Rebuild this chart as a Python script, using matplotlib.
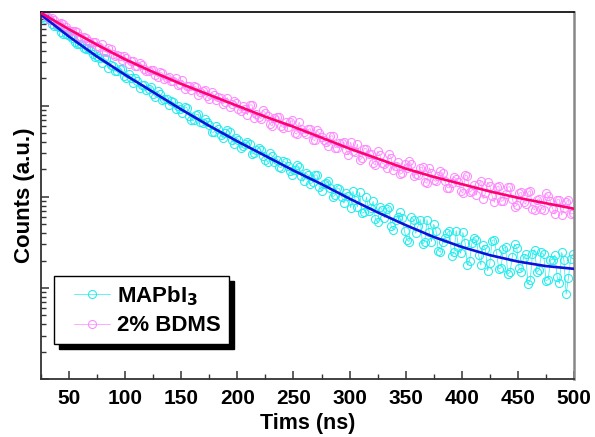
import matplotlib
matplotlib.use("Agg")
import matplotlib.pyplot as plt
import numpy as np
from matplotlib.patches import Rectangle
from matplotlib.legend_handler import HandlerLine2D
from matplotlib.ticker import MultipleLocator, LogLocator, NullFormatter

plt.rcParams["font.family"] = ["Liberation Sans", "DejaVu Sans"]
plt.rcParams["font.weight"] = "bold"

# time channels of the decay traces (ns)
time_ns = np.arange(25, 500, 2)

# log10(counts)
mapbi3_log10 = [
    4.01, 3.97, 3.95, 3.96, 3.94, 3.90, 3.88, 3.88, 3.86, 3.81,
    3.79, 3.79, 3.78, 3.77, 3.74, 3.70, 3.68, 3.68, 3.68, 3.63,
    3.62, 3.63, 3.61, 3.57, 3.54, 3.55, 3.53, 3.47, 3.52, 3.51,
    3.42, 3.45, 3.44, 3.38, 3.38, 3.40, 3.40, 3.33, 3.31, 3.35,
    3.30, 3.25, 3.30, 3.27, 3.20, 3.23, 3.23, 3.17, 3.19, 3.21,
    3.13, 3.10, 3.16, 3.13, 3.06, 3.07, 3.07, 3.01, 3.05, 3.04,
    2.96, 3.00, 2.97, 2.92, 2.99, 2.98, 2.89, 2.84, 2.84, 2.90,
    2.91, 2.82, 2.81, 2.86, 2.82, 2.79, 2.71, 2.71, 2.78, 2.75,
    2.68, 2.65, 2.70, 2.73, 2.71, 2.62, 2.58, 2.65, 2.63, 2.54,
    2.56, 2.58, 2.60, 2.58, 2.47, 2.48, 2.51, 2.54, 2.51, 2.45,
    2.41, 2.38, 2.48, 2.45, 2.38, 2.40, 2.33, 2.32, 2.39, 2.38,
    2.34, 2.28, 2.24, 2.29, 2.35, 2.33, 2.23, 2.17, 2.26, 2.24,
    2.14, 2.16, 2.24, 2.24, 2.11, 2.07, 2.14, 2.15, 2.17, 2.10,
    2.00, 2.02, 2.10, 2.09, 2.00, 1.93, 2.04, 2.01, 1.88, 2.06,
    1.97, 1.89, 2.05, 1.82, 1.83, 2.00, 1.85, 1.88, 1.95, 1.76,
    1.72, 1.89, 1.86, 1.77, 1.87, 1.89, 1.68, 1.64, 1.75, 1.78,
    1.83, 1.77, 1.62, 1.53, 1.51, 1.78, 1.75, 1.60, 1.68, 1.75,
    1.48, 1.51, 1.75, 1.61, 1.51, 1.70, 1.63, 1.41, 1.39, 1.51,
    1.55, 1.60, 1.63, 1.35, 1.39, 1.63, 1.45, 1.38, 1.61, 1.49,
    1.25, 1.30, 1.49, 1.55, 1.53, 1.36, 1.25, 1.47, 1.43, 1.19,
    1.27, 1.52, 1.53, 1.38, 1.21, 1.22, 1.43, 1.45, 1.15, 1.17,
    1.34, 1.48, 1.44, 1.22, 1.18, 1.33, 1.37, 1.04, 1.09, 1.37,
    1.42, 1.17, 1.20, 1.39, 1.37, 1.08, 1.09, 1.31, 1.31, 1.36,
    1.12, 1.05, 1.39, 1.31, 0.93, 1.11, 1.32, 1.37,
]
bdms_log10 = [
    4.01, 4.02, 4.00, 3.97, 3.94, 3.96, 3.94, 3.90, 3.90, 3.91,
    3.90, 3.87, 3.83, 3.82, 3.82, 3.82, 3.81, 3.77, 3.75, 3.76,
    3.75, 3.71, 3.69, 3.70, 3.70, 3.66, 3.65, 3.68, 3.60, 3.59,
    3.64, 3.62, 3.57, 3.55, 3.56, 3.55, 3.50, 3.55, 3.52, 3.46,
    3.49, 3.49, 3.44, 3.44, 3.47, 3.45, 3.40, 3.38, 3.38, 3.39,
    3.39, 3.34, 3.32, 3.37, 3.36, 3.29, 3.30, 3.32, 3.27, 3.27,
    3.30, 3.23, 3.24, 3.28, 3.19, 3.22, 3.22, 3.17, 3.22, 3.21,
    3.12, 3.15, 3.16, 3.17, 3.11, 3.07, 3.15, 3.12, 3.06, 3.10,
    3.09, 3.02, 3.04, 3.09, 2.99, 3.02, 3.05, 3.03, 2.96, 2.94,
    3.00, 2.97, 2.90, 3.01, 3.01, 2.87, 2.91, 2.88, 2.86, 2.95,
    2.92, 2.89, 2.80, 2.78, 2.87, 2.88, 2.88, 2.78, 2.76, 2.82,
    2.77, 2.82, 2.84, 2.70, 2.69, 2.82, 2.75, 2.71, 2.69, 2.74,
    2.75, 2.63, 2.62, 2.73, 2.70, 2.66, 2.63, 2.60, 2.56, 2.67,
    2.67, 2.54, 2.54, 2.59, 2.59, 2.60, 2.51, 2.46, 2.60, 2.50,
    2.49, 2.58, 2.40, 2.43, 2.53, 2.53, 2.47, 2.47, 2.37, 2.35,
    2.50, 2.46, 2.37, 2.36, 2.32, 2.47, 2.43, 2.29, 2.34, 2.38,
    2.25, 2.26, 2.36, 2.32, 2.39, 2.36, 2.23, 2.25, 2.24, 2.32,
    2.33, 2.16, 2.15, 2.32, 2.26, 2.18, 2.17, 2.23, 2.28, 2.26,
    2.17, 2.10, 2.10, 2.15, 2.22, 2.20, 2.16, 2.07, 2.04, 2.24,
    2.23, 2.05, 2.07, 2.13, 2.02, 2.14, 2.17, 1.98, 2.04, 2.16,
    2.12, 2.01, 1.94, 2.11, 2.12, 1.95, 1.96, 2.03, 2.11, 2.11,
    1.98, 1.89, 1.91, 2.04, 2.05, 1.94, 1.92, 2.05, 2.07, 1.87,
    1.86, 1.97, 1.98, 1.87, 1.86, 2.04, 2.01, 1.95, 1.87, 1.81,
    1.97, 1.97, 1.80, 1.88, 1.94, 1.97, 1.81, 1.82,
]

# fitted decay curves
fit_time = [25, 50, 75, 100, 125, 150, 175, 200, 225, 250,
            275, 300, 325, 350, 375, 400, 425, 450, 475, 500]
mapbi3_fit_log10 = [4.00, 3.76, 3.54, 3.34, 3.15, 2.96, 2.78, 2.61, 2.45, 2.29,
                    2.14, 1.98, 1.83, 1.69, 1.56, 1.45, 1.36, 1.29, 1.24, 1.21]
bdms_fit_log10 = [4.02, 3.84, 3.67, 3.51, 3.37, 3.24, 3.12, 3.00, 2.88, 2.77,
                  2.65, 2.53, 2.42, 2.31, 2.22, 2.14, 2.06, 1.99, 1.93, 1.87]

fig = plt.figure(figsize=(5.95, 4.37), dpi=100)
ax = fig.add_axes([0.0689, 0.1327, 0.8958, 0.8398])

l1, = ax.plot(time_ns, 10 ** np.array(mapbi3_log10), "-o", color="#22EEEE",
              lw=0.5, ms=5.8, mfc="none", mew=0.75, label="MAPbI$_\\mathbf{3}$", zorder=2)
l2, = ax.plot(time_ns, 10 ** np.array(bdms_log10), "-o", color="#FF88FF",
              lw=0.5, ms=5.8, mfc="none", mew=0.75, label="2% BDMS", zorder=2)
ax.plot(fit_time, 10 ** np.array(mapbi3_fit_log10), color="#1010DD", lw=1.9, zorder=3)
ax.plot(fit_time, 10 ** np.array(bdms_fit_log10), color="#FF0070", lw=1.9, zorder=3)

ax.set_yscale("log")
ax.set_xlim(25, 500)
ax.set_ylim(1, 10 ** 4.03)

ax.xaxis.set_major_locator(MultipleLocator(50))
ax.xaxis.set_minor_locator(MultipleLocator(25))
ax.yaxis.set_major_locator(LogLocator(base=10))
ax.yaxis.set_minor_locator(LogLocator(base=10, subs=np.arange(2, 10)))
ax.yaxis.set_major_formatter(NullFormatter())
ax.yaxis.set_minor_formatter(NullFormatter())

ax.tick_params(axis="both", which="major", direction="in", length=6, width=1.1,
               color="#333333", top=False, right=False)
ax.tick_params(axis="both", which="minor", direction="in", length=3.5, width=1.0,
               color="#333333", top=False, right=False)
ax.tick_params(axis="x", labelsize=15, pad=7)
for lab in ax.get_xticklabels():
    lab.set_fontweight("bold")

for side in ("left", "bottom"):
    ax.spines[side].set_color("#333333")
    ax.spines[side].set_linewidth(1.3)
ax.spines["top"].set_color("black")
ax.spines["top"].set_linewidth(1.2)
ax.spines["right"].set_color("#888888")
ax.spines["right"].set_linewidth(1.8)

ax.set_xlabel("Tims (ns)", fontsize=15.5, fontweight="bold", labelpad=4)
ax.set_ylabel("Counts (a.u.)", fontsize=16, fontweight="bold", labelpad=1)

leg = ax.legend(loc="lower left", bbox_to_anchor=(0.024, 0.095), borderaxespad=0,
                frameon=True, fancybox=False, edgecolor="black",
                framealpha=1, handlelength=2.2, handletextpad=0.3,
                labelspacing=0.35, borderpad=0.35, prop={"weight": "bold", "size": 16},
                handler_map={l1: HandlerLine2D(xpad=0.55), l2: HandlerLine2D(xpad=0.55)})
leg.get_frame().set_linewidth(1.0)
leg.set_zorder(6)

# solid black drop shadow behind the legend box
fig.canvas.draw()
bb = leg.get_window_extent().transformed(ax.transAxes.inverted())
dx = 5 / ax.bbox.width
dy = 5 / ax.bbox.height
ax.add_patch(Rectangle((bb.x0 + dx, bb.y0 - dy), bb.width, bb.height,
                       transform=ax.transAxes, facecolor="black",
                       edgecolor="black", zorder=5.5, clip_on=False))

fig.savefig("out.png", dpi=100)
